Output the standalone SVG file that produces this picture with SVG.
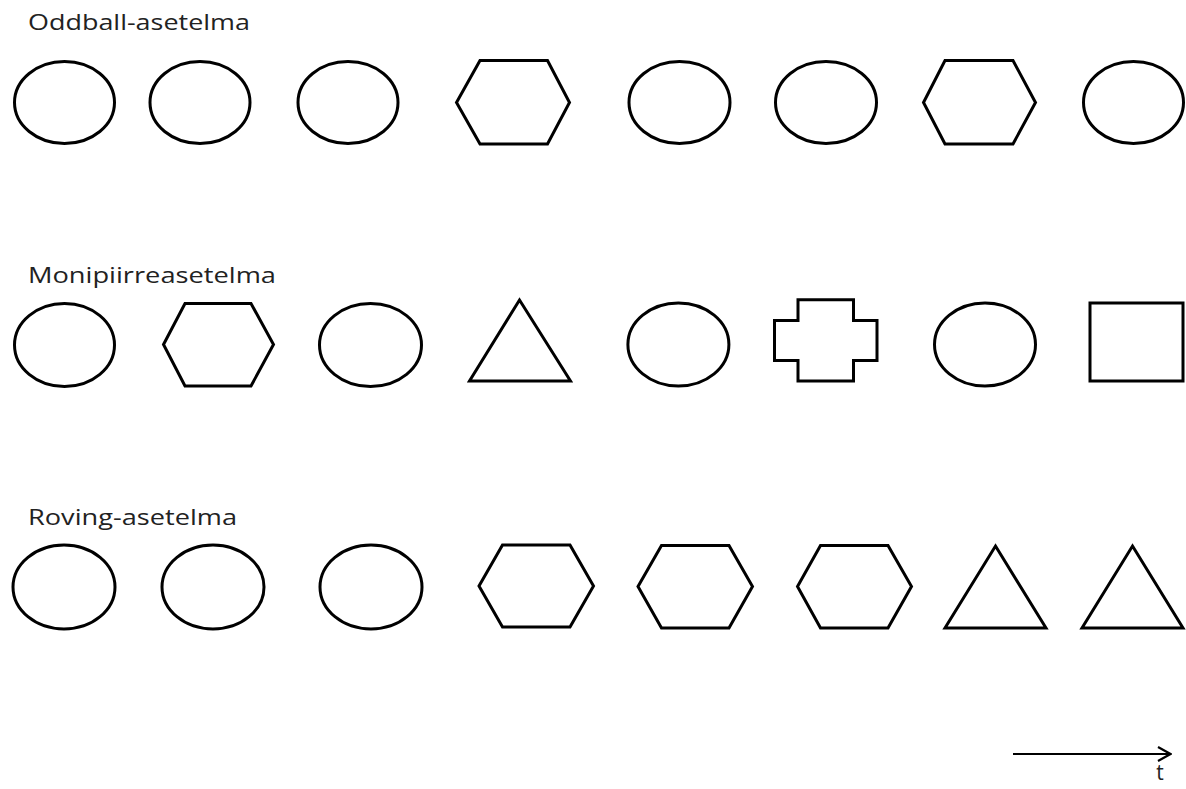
<svg xmlns="http://www.w3.org/2000/svg" width="1186" height="789" viewBox="0 0 1186 789">
<style>
.s{fill:none;stroke:#000;stroke-width:3;stroke-linejoin:miter}
.t{font-family:"Open Sans","Liberation Sans",sans-serif;font-size:21px;fill:#222}
</style>
<defs>
<marker id="arr" viewBox="0 0 16 16" refX="15" refY="8" markerWidth="16" markerHeight="16" markerUnits="userSpaceOnUse" orient="auto">
<path d="M2,1 L14.5,8 L2,15" fill="none" stroke="#000" stroke-width="2.2"/>
</marker>
</defs>
<rect width="1186" height="789" fill="#fff"/>
<g id="labels">
<text class="t" x="28" y="30" textLength="222" lengthAdjust="spacingAndGlyphs">Oddball-asetelma</text>
<text class="t" x="28" y="283" textLength="248" lengthAdjust="spacingAndGlyphs">Monipiirreasetelma</text>
<text class="t" x="28" y="525" textLength="209" lengthAdjust="spacingAndGlyphs">Roving-asetelma</text>
</g>
<g id="row1">
<ellipse id="r1n1" class="s" cx="64.5" cy="102.5" rx="50" ry="41"/>
<ellipse id="r1n2" class="s" cx="200" cy="102.5" rx="50" ry="41"/>
<ellipse id="r1n3" class="s" cx="348" cy="102.5" rx="50" ry="41"/>
<polygon id="r1n4" class="s" points="456.5,102.5 480,60.5 547.5,60.5 569.5,102.5 547.5,144 480,144"/>
<ellipse id="r1n5" class="s" cx="679.5" cy="102.5" rx="50.5" ry="41"/>
<ellipse id="r1n6" class="s" cx="826" cy="102.5" rx="50.5" ry="41"/>
<polygon id="r1n7" class="s" points="923.5,102.5 945,60.5 1013,60.5 1035.5,102.5 1013,144 945,144"/>
<ellipse id="r1n8" class="s" cx="1133.5" cy="102.5" rx="50" ry="41"/>
</g>
<g id="row2">
<ellipse id="r2n1" class="s" cx="64.5" cy="345" rx="50" ry="41.5"/>
<polygon id="r2n2" class="s" points="163.5,344.5 185,303.5 251,303.5 273.5,344.5 251,386 185,386"/>
<ellipse id="r2n3" class="s" cx="370.5" cy="345" rx="51" ry="41.5"/>
<polygon id="r2n4" class="s" points="519.5,300 570.5,381 469.5,381"/>
<ellipse id="r2n5" class="s" cx="678.4" cy="344.5" rx="50.5" ry="41.5"/>
<polygon id="r2n6" class="s" points="798,299.8 853.5,299.8 853.5,320.5 877,320.5 877,360.5 853.5,360.5 853.5,381 798,381 798,360.5 774.5,360.5 774.5,320.5 798,320.5"/>
<ellipse id="r2n7" class="s" cx="985" cy="344.5" rx="50.5" ry="41.5"/>
<rect id="r2n8" class="s" x="1090" y="303" width="93" height="78"/>
</g>
<g id="row3">
<ellipse id="r3n1" class="s" cx="64" cy="587" rx="51" ry="42"/>
<ellipse id="r3n2" class="s" cx="213" cy="587" rx="51" ry="42"/>
<ellipse id="r3n3" class="s" cx="371" cy="587" rx="51" ry="42"/>
<polygon id="r3n4" class="s" points="479,586 502.5,545 570,545 593.5,586 570,627 502.5,627"/>
<polygon id="r3n5" class="s" points="638,586.5 661.5,545.5 729,545.5 752.5,586.5 729,628 661.5,628"/>
<polygon id="r3n6" class="s" points="797.5,586.5 820.5,545.5 888,545.5 911.5,586.5 888,628 820.5,628"/>
<polygon id="r3n7" class="s" points="995.5,546 1046,628 945,628"/>
<polygon id="r3n8" class="s" points="1132.5,546 1183,628 1082,628"/>
</g>
<g id="connectors">
<line x1="1013" y1="754" x2="1171" y2="754" stroke="#000" stroke-width="2" marker-end="url(#arr)"/>
</g>
<g id="axis-label">
<text class="t" x="1160" y="780" text-anchor="middle" font-size="20">t</text>
</g>
</svg>
